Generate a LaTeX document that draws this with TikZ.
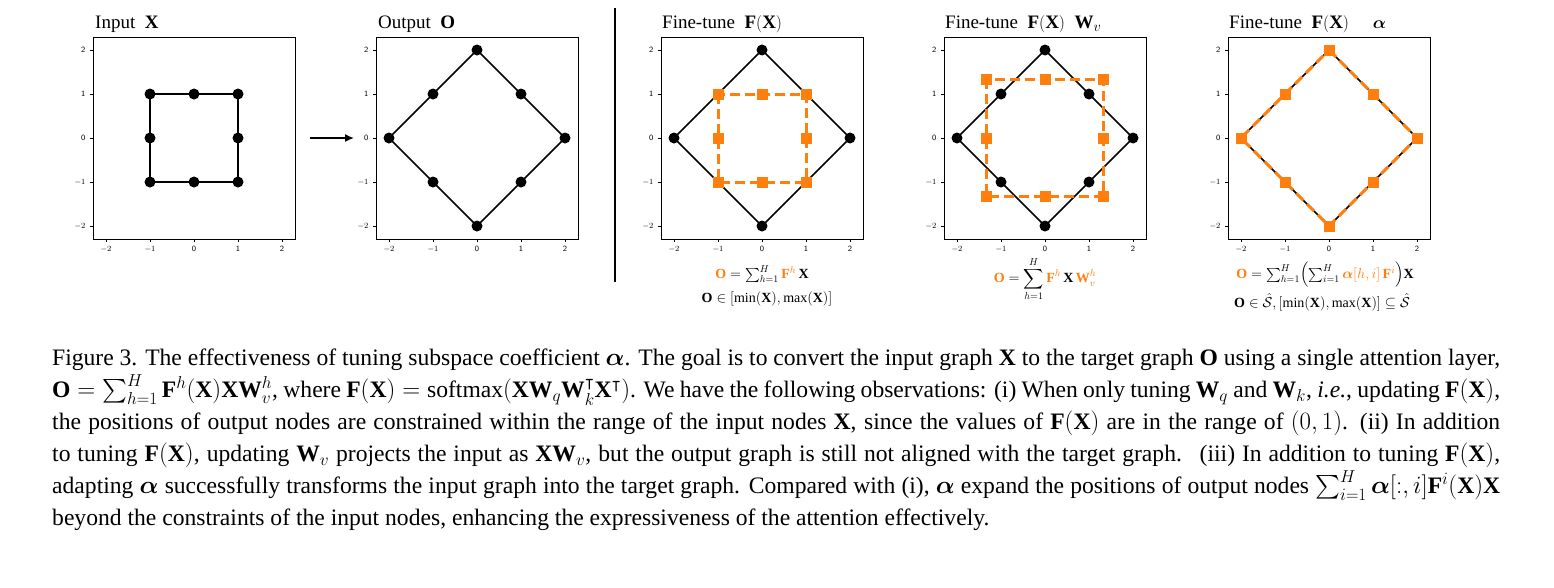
\documentclass[tikz,border=0pt]{standalone}
\usepackage{fontspec}
\setmainfont{Liberation Serif}
\usepackage{amsmath,amssymb,bm}
\usetikzlibrary{arrows.meta}
\definecolor{mplor}{RGB}{255,127,14}
\begin{document}
\begin{tikzpicture}[x=1pt,y=-1pt,
  frame/.style={line width=0.8pt},
  edge/.style={line width=1.6pt},
  dot/.style={circle,fill=black,inner sep=0pt,minimum size=11pt},
  sq/.style={rectangle,fill=mplor,inner sep=0pt,minimum size=11pt},
  oedge/.style={line width=3pt,mplor,dash pattern=on 10pt off 5pt},
  tick/.style={font=\fontsize{8}{9}\selectfont\sffamily},
  ttl/.style={font=\fontsize{19}{22}\selectfont,anchor=south west,inner sep=0pt},
  frm/.style={font=\fontsize{14}{16}\selectfont}]
\useasboundingbox (0,0) rectangle (1554,587);
\fill[white] (0,0) rectangle (1554,587);
\def\U{44}
\newcommand{\myaxes}[3]{%
  \draw[frame] (#1-101,#2-101) rectangle (#1+101,#2+101);
  \foreach \t/\l in {-2/$-2$,-1/$-1$,0/0,1/1,2/2}{
    \draw[line width=0.5pt] (#1+\t*\U,#2+101) -- (#1+\t*\U,#2+104);
    \node[tick,anchor=north] at (#1+\t*\U,#2+105) {\l};
    \draw[line width=0.5pt] (#1-101,#2-\t*\U) -- (#1-104,#2-\t*\U);
    \node[tick,anchor=east] at (#1-105,#2-\t*\U) {\l};
  }}
\newcommand{\mysquare}[3]{%
  \draw[edge] (#1-#3*\U,#2-#3*\U) rectangle (#1+#3*\U,#2+#3*\U);}
% panel 1
\myaxes{194}{138}{a}
\mysquare{194}{138}{1}
\foreach \p/\q [count=\i] in {-1/-1,0/-1,1/-1,1/0,1/1,0/1,-1/1,-1/0}
  \node[dot] (x\i) at (194+\p*\U,138-\q*\U) {};
\node[ttl] (t1) at (95,33) {Input \ $\mathbf{X}$};
\coordinate (aa) at (310,138); \coordinate (ab) at (354,138);
\draw[line width=1.5pt,-{Latex[length=9pt,width=8pt]}] (aa) -- (ab);
% panel 2
\myaxes{477}{138}{b}
\draw[edge] (477,138-2*\U) -- (477+2*\U,138) -- (477,138+2*\U) -- (477-2*\U,138) -- cycle;
\foreach \p/\q [count=\i] in {0/2,1/1,2/0,1/-1,0/-2,-1/-1,-2/0,-1/1}
  \node[dot] (o\i) at (477+\p*\U,138-\q*\U) {};
\node[ttl] (t2) at (378,33) {Output \ $\mathbf{O}$};
\draw[line width=1.5pt] (615,8) -- (615,282);
% panel 3
\myaxes{762}{138}{c}
\draw[edge] (762,138-2*\U) -- (762+2*\U,138) -- (762,138+2*\U) -- (762-2*\U,138) -- cycle;
\foreach \p/\q [count=\i] in {0/2,2/0,0/-2,-2/0}
  \node[dot] (c\i) at (762+\p*\U,138-\q*\U) {};
\draw[oedge] (762-\U,138-\U) rectangle (762+\U,138+\U);
\foreach \p/\q [count=\i] in {-1/-1,0/-1,1/-1,1/0,1/1,0/1,-1/1,-1/0}
  \node[sq] (cs\i) at (762+\p*\U,138-\q*\U) {};
\node[ttl] (t3) at (662,33) {Fine-tune \ $\mathbf{F(X)}$};
\node[frm] (f3a) at (762,274) {$\color{mplor}\mathbf{O}\color{black} = \sum_{h=1}^{H}\color{mplor}\mathbf{F}^h\color{black}\,\mathbf{X}$};
\node[frm] (f3b) at (767,299) {$\mathbf{O}\in[\min(\mathbf{X}),\max(\mathbf{X})]$};
% panel 4
\myaxes{1045}{138}{d}
\draw[edge] (1045,138-2*\U) -- (1045+2*\U,138) -- (1045,138+2*\U) -- (1045-2*\U,138) -- cycle;
\foreach \p/\q [count=\i] in {0/2,1/1,2/0,1/-1,0/-2,-1/-1,-2/0,-1/1}
  \node[dot] (d\i) at (1045+\p*\U,138-\q*\U) {};
\draw[oedge] (1045-1.33*\U,138-1.33*\U) rectangle (1045+1.33*\U,138+1.33*\U);
\foreach \p/\q [count=\i] in {-1.33/-1.33,0/-1.33,1.33/-1.33,1.33/0,1.33/1.33,0/1.33,-1.33/1.33,-1.33/0}
  \node[sq] (ds\i) at (1045+\p*\U,138-\q*\U) {};
\node[ttl] (t4) at (945,33) {Fine-tune \ $\mathbf{F(X)}$ \ $\mathbf{W}_v$};
\node[frm] (f4) at (1045,279) {$\color{mplor}\mathbf{O}\color{black} = \displaystyle\sum_{h=1}^{H}\color{mplor}\mathbf{F}^h\color{black}\,\mathbf{X}\,\color{mplor}\mathbf{W}_v^h$};
% panel 5
\myaxes{1329}{138}{e}
\draw[edge] (1329,138-2*\U) -- (1329+2*\U,138) -- (1329,138+2*\U) -- (1329-2*\U,138) -- cycle;
\draw[oedge] (1329,138-2*\U) -- (1329+2*\U,138) -- (1329,138+2*\U) -- (1329-2*\U,138) -- cycle;
\foreach \p/\q [count=\i] in {0/2,1/1,2/0,1/-1,0/-2,-1/-1,-2/0,-1/1}
  \node[sq] (e\i) at (1329+\p*\U,138-\q*\U) {};
\node[ttl] (t5) at (1229,33) {Fine-tune \ $\mathbf{F(X)}$ \quad $\bm{\alpha}$};
\node[frm] (f5a) at (1325,275) {$\color{mplor}\mathbf{O}\color{black} = \sum_{h=1}^{H}\Bigl(\sum_{i=1}^{H}\color{mplor}\bm{\alpha}[h,i]\,\mathbf{F}^i\color{black}\Bigr)\mathbf{X}$};
\node[frm] (f5b) at (1322,302) {$\mathbf{O}\in\hat{\mathcal{S}},[\min(\mathbf{X}),\max(\mathbf{X})]\subseteq\hat{\mathcal{S}}$};
% caption
\node[anchor=north west,inner sep=0pt,text width=1448pt,align=justify,
  font=\fontsize{23.6}{32}\selectfont] (cap) at (52,349) {Figure 3. The effectiveness of tuning subspace coefficient $\bm{\alpha}$. The goal is to convert the input graph $\mathbf{X}$ to the target graph $\mathbf{O}$ using a single attention layer, $\mathbf{O}=\sum_{h=1}^{H}\mathbf{F}^h(\mathbf{X})\mathbf{X}\mathbf{W}_v^h$, where $\mathbf{F}(\mathbf{X})=\mathrm{softmax}(\mathbf{X}\mathbf{W}_q\mathbf{W}_k^{\intercal}\mathbf{X}^{\intercal})$. We have the following observations: (i) When only tuning $\mathbf{W}_q$ and $\mathbf{W}_k$, \textit{i.e.}, updating $\mathbf{F}(\mathbf{X})$, the positions of output nodes are constrained within the range of the input nodes $\mathbf{X}$, since the values of $\mathbf{F}(\mathbf{X})$ are in the range of $(0,1)$. (ii) In addition to tuning $\mathbf{F}(\mathbf{X})$, updating $\mathbf{W}_v$ projects the input as $\mathbf{X}\mathbf{W}_v$, but the output graph is still not aligned with the target graph. \ (iii) In addition to tuning $\mathbf{F}(\mathbf{X})$, adapting $\bm{\alpha}$ successfully transforms the input graph into the target graph. Compared with (i), $\bm{\alpha}$ expand the positions of output nodes $\sum_{i=1}^{H}\bm{\alpha}[:,i]\mathbf{F}^i(\mathbf{X})\mathbf{X}$ beyond the constraints of the input nodes, enhancing the expressiveness of the attention effectively.};
\end{tikzpicture}
\end{document}
